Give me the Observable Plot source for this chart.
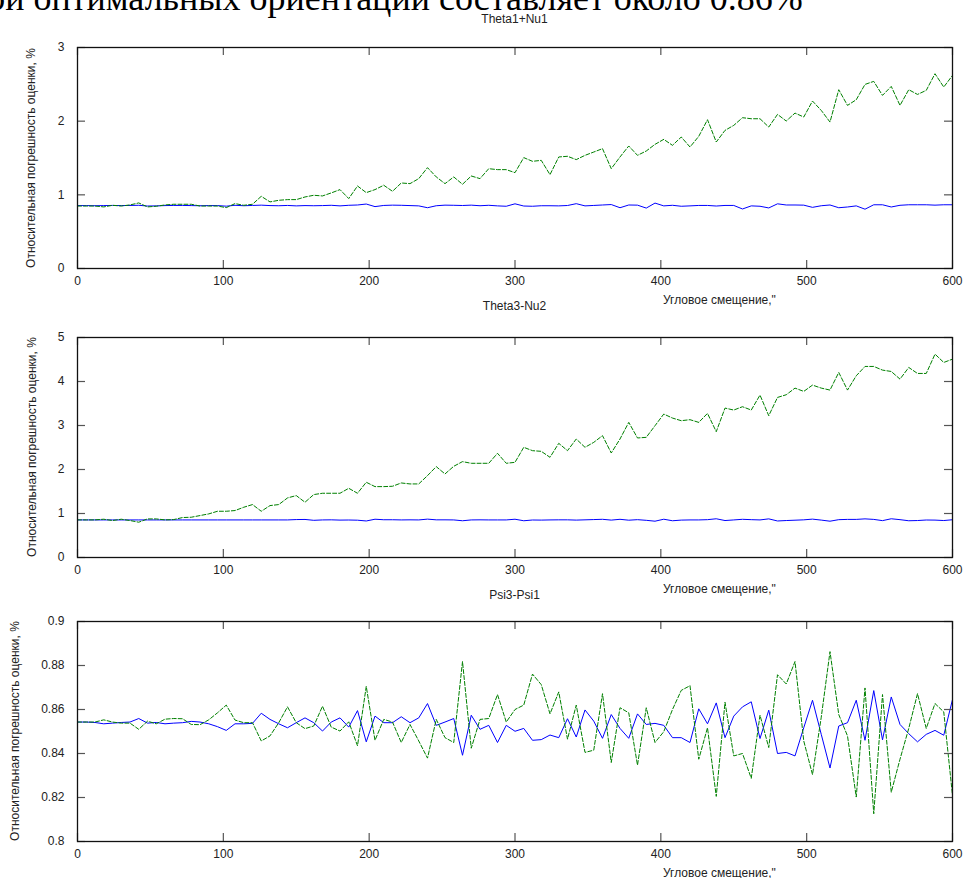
<!DOCTYPE html>
<html><head><meta charset="utf-8">
<script src="https://cdn.jsdelivr.net/npm/d3@7"></script>
<script src="https://cdn.jsdelivr.net/npm/@observablehq/plot@0.6"></script>
<style>
body{margin:0;background:#fff;}
#wrap{position:relative;width:963px;height:878px;overflow:hidden;font-family:"Liberation Sans",Arial,sans-serif;color:#222;}
.abs{position:absolute;white-space:nowrap;font-size:12px;line-height:12px;}
.ctr{transform:translateX(-50%);}
.ylab{transform:translate(-50%,-50%) rotate(-90deg);}
.big{position:absolute;white-space:nowrap;font-family:"Liberation Serif","Times New Roman",serif;font-size:36px;line-height:20px;color:#000;}
.panel{position:absolute;left:0;}
</style>
</head><body>
<div id="wrap"></div>
<script>
const angles = [0,6,12,18,24,30,36,42,48,54,60,66,72,78,84,90,96,102,108,114,120,126,132,138,144,150,156,162,168,174,180,186,192,198,204,210,216,222,228,234,240,246,252,258,264,270,276,282,288,294,300,306,312,318,324,330,336,342,348,354,360,366,372,378,384,390,396,402,408,414,420,426,432,438,444,450,456,462,468,474,480,486,492,498,504,510,516,522,528,534,540,546,552,558,564,570,576,582,588,594,600];

const titles = ["Theta1+Nu1", "Theta3-Nu2", "Psi3-Psi1"];
const xLabel = "Угловое смещение,\"";
const yLabel = "Относительная погрешность оценки, %";
const headline = "при оптимальных ориентаций составляет около 0.86%";

const xTicks = [0,100,200,300,400,500,600];
const xTickLabels = ["0","100","200","300","400","500","600"];

const p1YTicks = [0,1,2,3];
const p1YTickLabels = ["0","1","2","3"];
const p2YTicks = [0,1,2,3,4,5];
const p2YTickLabels = ["0","1","2","3","4","5"];
const p3YTicks = [0.8,0.82,0.84,0.86,0.88,0.9];
const p3YTickLabels = ["0.8","0.82","0.84","0.86","0.88","0.9"];

const p1Blue = [0.854,0.854,0.852,0.854,0.856,0.854,0.856,0.858,0.848,0.850,0.854,0.856,0.856,0.854,0.852,0.854,0.854,0.846,0.858,0.852,0.856,0.860,0.854,0.852,0.856,0.850,0.854,0.852,
0.854,0.858,0.850,0.858,0.862,0.875,0.840,0.856,0.860,0.858,0.854,0.850,0.825,0.852,0.860,0.858,0.855,0.860,0.852,0.858,0.850,0.845,0.878,0.848,0.845,0.852,0.852,0.850,0.855,0.880,0.850,0.856,0.862,0.868,0.825,0.862,0.860,
0.820,0.888,0.850,0.858,0.845,0.850,0.856,0.856,0.848,0.856,0.856,0.808,0.850,0.845,0.822,0.878,0.862,0.862,0.860,0.830,0.852,0.862,0.825,0.835,0.850,0.805,0.865,0.865,0.835,0.858,0.865,0.865,0.865,0.860,0.865,0.865];
const p1Green = [0.848,0.848,0.848,0.836,0.858,0.848,0.863,0.890,0.836,0.845,0.863,0.872,0.872,0.872,0.848,0.848,0.848,0.826,0.881,0.858,0.872,0.980,0.904,0.926,0.935,0.935,0.971,0.994,
0.985,1.026,1.071,0.949,1.120,1.030,1.071,1.130,1.048,1.161,1.152,1.220,1.369,1.243,1.152,1.243,1.143,1.256,1.220,1.355,1.342,1.342,1.301,1.505,1.455,1.468,1.274,1.514,1.523,1.478,1.536,1.581,1.627,1.355,1.514,1.663,1.536,
1.595,1.685,1.753,1.672,1.785,1.649,1.794,2.020,1.717,1.875,1.943,2.047,2.033,2.033,1.920,2.092,2.002,2.110,2.056,2.273,2.146,1.988,2.427,2.214,2.291,2.499,2.540,2.350,2.472,2.214,2.427,2.363,2.418,2.644,2.463,2.621];

const p2Blue = [0.854,0.854,0.854,0.854,0.854,0.854,0.854,0.854,0.854,0.854,0.854,0.854,0.854,0.854,0.854,0.854,0.854,0.854,0.854,0.854,0.854,0.854,0.854,0.854,0.854,0.862,0.865,0.845,
0.854,0.856,0.850,0.852,0.848,0.830,0.870,0.858,0.858,0.854,0.856,0.854,0.872,0.856,0.856,0.854,0.835,0.854,0.856,0.854,0.854,0.854,0.870,0.835,0.852,0.850,0.854,0.856,0.856,0.850,0.856,0.862,0.868,0.850,0.868,0.848,0.860,
0.845,0.825,0.870,0.835,0.850,0.854,0.854,0.860,0.880,0.840,0.854,0.868,0.860,0.854,0.878,0.830,0.840,0.848,0.856,0.872,0.850,0.825,0.860,0.866,0.866,0.878,0.866,0.838,0.880,0.860,0.835,0.840,0.852,0.850,0.840,0.858];
const p2Green = [0.855,0.855,0.855,0.870,0.840,0.870,0.840,0.802,0.877,0.877,0.855,0.862,0.908,0.915,0.953,0.991,1.051,1.051,1.067,1.142,1.203,1.051,1.180,1.203,1.354,1.407,1.256,1.430,
1.460,1.460,1.460,1.573,1.460,1.710,1.611,1.611,1.619,1.694,1.672,1.672,1.861,2.065,1.899,2.073,2.179,2.141,2.141,2.141,2.368,2.141,2.163,2.504,2.428,2.413,2.277,2.595,2.428,2.693,2.504,2.617,2.769,2.375,2.693,3.071,2.716,
2.731,2.995,3.260,3.169,3.109,3.132,3.071,3.275,2.859,3.396,3.351,3.427,3.351,3.691,3.222,3.638,3.699,3.850,3.775,3.918,3.850,3.805,4.206,3.805,4.130,4.342,4.342,4.259,4.228,4.054,4.319,4.183,4.183,4.622,4.433,4.508];

const p3Blue = [0.8543,0.8543,0.8541,0.8535,0.8538,0.8541,0.8543,0.8559,0.8538,0.8541,
0.8535,0.8538,0.8540,0.8546,0.8543,0.8535,0.8522,0.8505,0.8535,0.8535,
0.8537,0.8583,0.8555,0.8535,0.8517,0.8540,0.8562,0.8540,0.8502,0.8543,
0.8562,0.8520,0.8595,0.8453,0.8570,0.8540,0.8540,0.8567,0.8540,0.8562,
0.8627,0.8528,0.8543,0.8559,0.8392,0.8574,0.8510,0.8528,0.8450,0.8528,
0.8501,0.8514,0.8460,0.8463,0.8484,0.8472,0.8558,0.8475,0.8598,0.8547,
0.8469,0.8577,0.8514,0.8469,0.8580,0.8532,0.8537,0.8528,0.8472,0.8472,
0.8450,0.8603,0.8535,0.8630,0.8472,0.8570,0.8612,0.8635,0.8468,0.8597,
0.8400,0.8405,0.8389,0.8517,0.8642,0.8487,0.8334,0.8525,0.8540,0.8642,
0.8460,0.8686,0.8462,0.8657,0.8532,0.8490,0.8453,0.8487,0.8505,0.8483,
0.8645];
const p3Green = [0.8543,0.8543,0.8543,0.8553,0.8543,0.8538,0.8538,0.8510,0.8547,0.8535,
0.8556,0.8559,0.8558,0.8532,0.8531,0.8553,0.8585,0.8620,0.8552,0.8540,
0.8540,0.8457,0.8480,0.8540,0.8612,0.8540,0.8513,0.8525,0.8615,0.8520,
0.8502,0.8544,0.8435,0.8705,0.8460,0.8555,0.8543,0.8450,0.8532,0.8457,
0.8379,0.8555,0.8472,0.8450,0.8818,0.8424,0.8555,0.8559,0.8668,0.8543,
0.8600,0.8620,0.8761,0.8713,0.8580,0.8680,0.8465,0.8620,0.8405,0.8415,
0.8672,0.8359,0.8608,0.8585,0.8347,0.8608,0.8450,0.8499,0.8600,0.8687,
0.8708,0.8374,0.8517,0.8205,0.8633,0.8389,0.8400,0.8287,0.8574,0.8427,
0.8758,0.8716,0.8818,0.8457,0.8304,0.8565,0.8863,0.8577,0.8480,0.8202,
0.8698,0.8126,0.8668,0.8224,0.8374,0.8514,0.8672,0.8514,0.8627,0.8589,
0.8209];

const wrap = document.getElementById("wrap");
const W = 963, ML = 77, MR = 11;

function addText(cls, text, left, top) {
  const d = document.createElement("div");
  d.className = cls;
  d.textContent = text;
  d.style.left = left + "px";
  d.style.top = top + "px";
  wrap.appendChild(d);
  return d;
}

function panel(cfg) {
  const {top, height, mt, mb, yDomain, yTicks, yTickLabels, blue, green, title, titleTop, yLabelX} = cfg;
  const ph = height - mt - mb, pw = W - ML - MR;
  const rows = angles.map((a, i) => ({a, b: blue[i], g: green[i]}));
  const chart = Plot.plot({
    width: W, height,
    marginLeft: ML, marginRight: MR, marginTop: mt, marginBottom: mb,
    style: {fontFamily: "'Liberation Sans', Arial, sans-serif", fontSize: "12px", color: "#222", background: "transparent", overflow: "visible"},
    x: {domain: [0, 600]},
    y: {domain: yDomain},
    marks: [
      Plot.lineY(rows, {x: "a", y: "b", stroke: "#0000ff", strokeWidth: 1}),
      Plot.lineY(rows, {x: "a", y: "g", stroke: "#008000", strokeWidth: 1, strokeDasharray: "4,2"}),
      Plot.tickX(xTicks, {x: d => d, insetTop: ph - 8, stroke: "#555", strokeWidth: 1.2}),
      Plot.tickX(xTicks, {x: d => d, insetBottom: ph - 8, stroke: "#555", strokeWidth: 1.2}),
      Plot.tickY(yTicks, {y: d => d, insetRight: pw - 8, stroke: "#555", strokeWidth: 1.2}),
      Plot.tickY(yTicks, {y: d => d, insetLeft: pw - 8, stroke: "#555", strokeWidth: 1.2}),
      Plot.frame({stroke: "#111", strokeWidth: 1.3}),
      Plot.axisX(xTicks, {tickSize: 0, tickPadding: 8, label: null, tickFormat: d => xTickLabels[xTicks.indexOf(d)]}),
      Plot.axisY(yTicks, {tickSize: 0, tickPadding: 13, label: null, tickFormat: d => yTickLabels[yTicks.indexOf(d)]})
    ]
  });
  chart.classList.add("panel");
  chart.style.top = top + "px";
  wrap.appendChild(chart);
  const frameTop = top + mt, frameBottom = top + height - mb;
  addText("abs ctr", title, (ML + W - MR) / 2, titleTop);
  addText("abs", xLabel, 663, frameBottom + 26);
  addText("abs ylab", yLabel, yLabelX, (frameTop + frameBottom) / 2);
}

addText("big", headline, -32, -12);

panel({top: 0, height: 290, mt: 47, mb: 22, yDomain: [0, 3], yTicks: p1YTicks, yTickLabels: p1YTickLabels,
  blue: p1Blue, green: p1Green, title: titles[0], titleTop: 12.5, yLabelX: 31});
panel({top: 300, height: 280, mt: 37, mb: 23, yDomain: [0, 5], yTicks: p2YTicks, yTickLabels: p2YTickLabels,
  blue: p2Blue, green: p2Green, title: titles[1], titleTop: 300, yLabelX: 32});
panel({top: 585, height: 280, mt: 36, mb: 24, yDomain: [0.8, 0.9], yTicks: p3YTicks, yTickLabels: p3YTickLabels,
  blue: p3Blue, green: p3Green, title: titles[2], titleTop: 589, yLabelX: 15});
</script>
</body></html>
